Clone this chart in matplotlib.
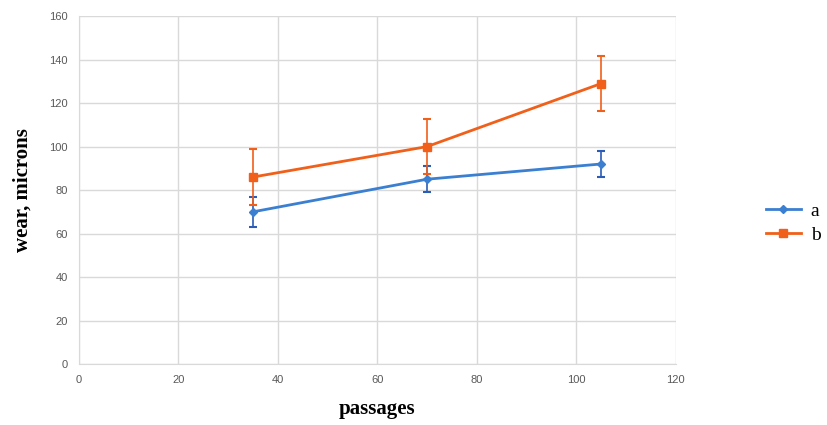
import matplotlib
matplotlib.use("Agg")
import matplotlib.pyplot as plt

passages = [35, 70, 105]
wear_a = [70, 85, 92]
err_a = [7, 6, 6]
wear_b = [86, 100, 129]
err_b = [13, 12.5, 12.5]

fig = plt.figure(figsize=(8.27, 4.25), dpi=100)
ax = fig.add_axes([0.0955, 0.1435, 0.7215, 0.8185])

ax.errorbar(passages, wear_a, yerr=err_a, color="#3b7fd1", ecolor="#2a5cb8",
            marker="D", markersize=4, linewidth=2, elinewidth=1.2, capsize=3,
            capthick=1.5, label="a", zorder=3)
ax.errorbar(passages, wear_b, yerr=err_b, color="#f0601a", ecolor="#f0601a",
            marker="s", markersize=6, linewidth=2, elinewidth=1.2, capsize=3,
            capthick=1.5, label="b", zorder=3)

ax.set_xlim(0, 120)
ax.set_ylim(0, 160)
ax.set_xticks(range(0, 121, 20))
ax.set_yticks(range(0, 161, 20))
ax.grid(True, color="#d9d9d9", linewidth=1)
ax.set_axisbelow(True)
for s in ["top", "right"]:
    ax.spines[s].set_visible(False)
for s in ["left", "bottom"]:
    ax.spines[s].set_color("#d9d9d9")
ax.tick_params(length=0, labelsize=8, labelcolor="#595959", pad=8)
for lab in ax.get_xticklabels() + ax.get_yticklabels():
    lab.set_family("Liberation Sans")

ax.set_xlabel("passages", family="Liberation Serif", fontsize=15,
              fontweight="bold", labelpad=10)
ax.set_ylabel("wear, microns", family="Liberation Serif", fontsize=15,
              fontweight="bold", labelpad=12)

handles, labels = ax.get_legend_handles_labels()
handles = [h[0] for h in handles]
fig.legend(handles, labels, loc="center left", bbox_to_anchor=(0.905, 0.475),
           frameon=False, prop={"family": "Liberation Serif", "size": 14},
           handlelength=1.8, handletextpad=0.5, labelspacing=0.35)

fig.savefig("out.png", dpi=100)
